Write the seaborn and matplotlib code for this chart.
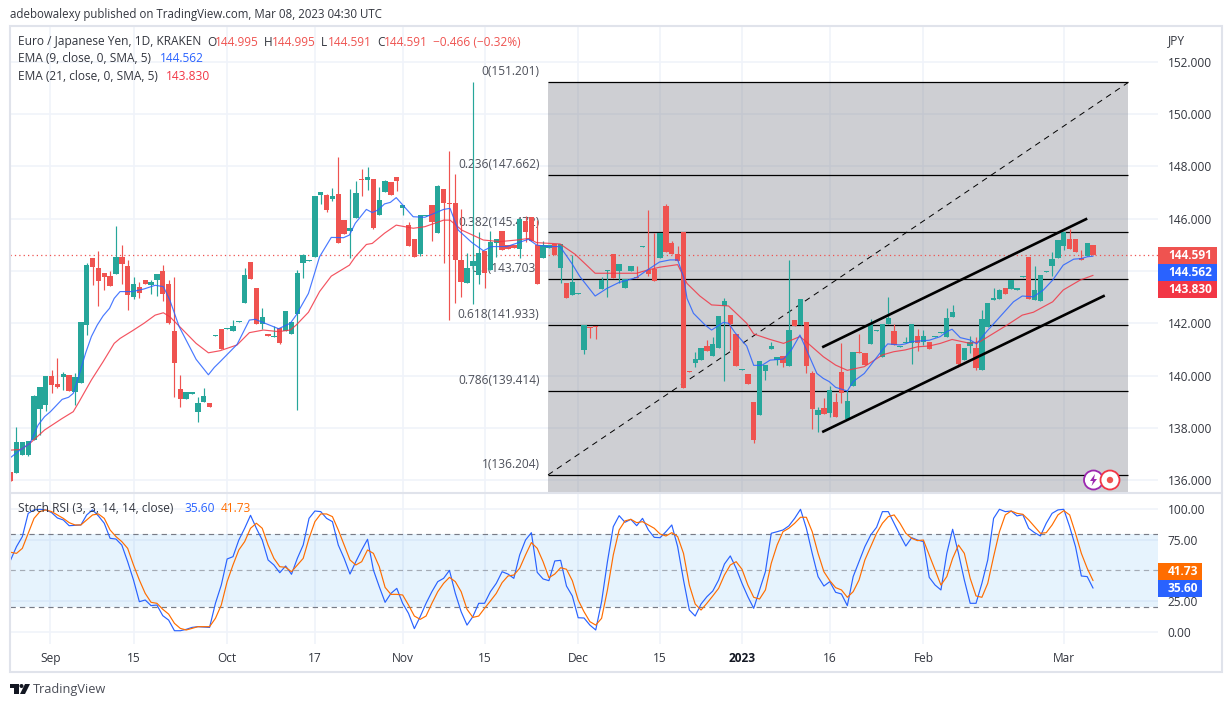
import matplotlib
matplotlib.use('Agg')
import matplotlib.pyplot as plt
from matplotlib.patches import Rectangle, Circle, Polygon
import pandas as pd
import seaborn as sns

opens = [136.30,136.29,136.97,136.96,137.54,138.73,138.89,139.98,139.68,139.96,
140.02,139.37,139.73,141.93,144.49,144.11,143.92,143.80,143.88,144.53,
144.19,143.00,143.38,143.65,143.46,143.65,143.99,143.50,141.70,139.49,
139.10,139.31,138.61,138.99,138.95,141.51,141.78,141.78,141.70,142.05,
142.77,144.34,143.35,141.97,141.59,141.47,141.82,141.70,141.59,142.35,
144.30,144.38,144.54,146.90,146.90,146.75,146.94,145.94,145.52,146.02,
147.52,147.47,147.51,146.14,147.01,147.40,147.59,146.40,145.75,145.22,
144.65,146.10,146.52,145.45,147.13,146.58,146.59,144.42,143.54,144.19,
143.84,144.76,144.03,145.07,145.52,144.99,144.99,144.84,145.91,146.06,
144.99,144.49,144.89,145.03,144.11,143.54,143.08,143.12,140.98,141.87,
141.89,143.31,143.99,144.65,143.99,143.35,143.99,143.78,144.91,144.03,
144.07,144.49,146.48,145.07,144.65,145.49,140.19,140.48,140.59,141.13,
140.75,141.05,142.66,142.31,141.59,140.21,140.06,138.99,138.49,140.17,
141.01,140.59,140.75,140.37,142.12,141.93,142.05,140.10,138.49,138.76,
138.57,138.99,140.14,138.33,139.60,140.90,140.86,141.21,141.70,140.71,
141.97,141.70,141.09,141.24,141.24,141.51,141.28,141.28,141.48,141.63,
141.47,142.24,141.21,140.59,141.13,141.05,140.21,141.86,142.90,142.93,
143.35,143.31,143.28,143.77,144.53,142.89,142.85,143.96,144.19,144.49,
144.95,145.22,145.22,144.49,144.57,144.995]
closes = [135.98,137.46,137.46,137.50,139.22,139.56,139.98,139.64,139.56,140.06,
139.41,139.94,142.05,144.23,144.15,143.61,143.77,143.42,144.53,144.26,
143.08,143.50,143.15,143.50,143.57,143.88,143.12,142.00,140.48,139.10,
139.37,139.37,138.95,139.22,138.80,141.55,141.01,141.82,141.89,142.08,
143.84,143.69,141.97,142.24,141.51,141.51,141.24,142.47,142.05,143.92,
144.61,144.42,146.86,147.01,146.33,146.86,145.07,145.41,145.64,146.98,
147.49,147.59,145.64,146.71,147.44,146.90,147.44,146.52,144.95,144.53,
146.14,146.14,145.87,147.24,146.59,146.54,144.42,143.57,144.11,144.38,
144.68,143.92,145.10,145.22,144.80,144.84,144.87,145.98,145.49,145.14,
143.50,144.99,144.99,144.59,145.03,142.96,143.57,143.15,141.93,141.83,
141.86,143.65,144.03,143.73,144.26,143.69,144.19,143.74,144.95,143.88,
143.61,145.45,144.72,144.65,144.38,139.52,140.15,140.63,141.05,140.94,
141.21,142.28,142.85,141.97,140.37,140.25,139.68,137.54,140.56,140.40,
141.13,140.71,140.48,141.74,141.89,142.93,140.37,138.73,138.68,138.53,
139.45,138.42,139.33,139.03,140.90,140.86,140.40,141.97,141.74,141.97,
142.20,141.17,141.13,141.28,141.97,141.24,141.51,141.01,141.52,141.66,
142.20,142.43,140.44,141.05,141.28,140.29,142.16,142.77,142.96,143.27,
143.12,143.65,143.33,143.80,142.93,143.27,143.84,143.99,144.45,145.18,
145.49,144.84,144.72,144.43,145.07,144.591]
highs = [136.30,138.04,137.46,137.50,139.26,139.56,139.98,140.21,140.67,140.15,
140.02,140.11,142.05,144.30,144.49,144.76,143.92,143.99,145.72,144.99,
144.42,143.77,143.57,143.65,143.65,143.88,144.23,143.65,143.77,140.02,
139.37,139.37,139.18,139.52,138.95,141.55,141.78,141.82,142.12,142.08,
144.11,144.34,143.35,142.58,141.59,141.89,141.82,142.47,142.05,144.03,
144.65,144.42,146.86,147.01,146.94,147.17,148.35,145.94,147.13,147.44,
147.89,147.97,147.51,147.21,147.47,147.40,147.59,146.52,145.87,145.22,
146.14,146.14,146.52,147.28,147.13,148.58,147.70,146.37,144.68,151.22,
145.49,144.76,145.52,145.22,145.52,144.99,144.99,145.98,146.10,146.06,
145.94,145.14,144.99,145.03,145.03,143.54,144.61,143.15,141.93,141.87,
141.89,143.77,144.03,144.65,144.26,143.69,144.19,144.19,144.95,146.33,
145.45,145.45,146.56,145.14,144.95,145.49,140.19,140.90,141.05,141.36,
141.47,142.28,142.96,142.31,141.59,140.25,140.06,138.99,140.56,140.40,
141.28,140.71,140.75,144.42,142.12,142.93,142.05,140.17,138.80,139.14,
139.60,139.33,141.24,139.45,140.90,141.59,140.86,142.16,141.74,141.97,
143.00,141.97,141.13,141.47,141.97,141.78,141.74,141.28,141.52,141.66,
142.58,142.70,141.21,141.05,141.51,141.47,142.51,142.77,143.35,143.31,
143.35,143.65,143.33,143.80,144.53,144.19,143.84,143.99,144.72,145.18,
145.49,145.60,145.22,144.80,145.07,144.995]
lows = [135.98,136.29,136.97,136.93,137.54,137.73,138.66,139.35,139.52,139.45,
139.41,138.87,139.73,141.55,143.46,142.66,143.27,143.42,143.88,143.50,
142.51,142.93,142.96,143.50,143.12,143.04,142.85,141.97,139.18,138.80,
139.10,139.31,138.22,138.99,138.80,141.51,141.01,141.78,141.70,142.05,
142.77,143.69,141.97,141.78,141.51,141.47,141.20,141.70,141.59,138.68,
143.73,144.38,144.54,146.56,146.25,146.67,145.07,145.41,144.49,146.02,
146.86,147.09,145.60,146.14,147.01,146.90,147.05,146.14,144.95,144.53,
144.57,146.10,145.14,145.45,144.31,142.12,142.77,143.00,143.54,142.73,
143.50,143.35,144.03,144.53,144.80,144.84,144.87,144.49,145.10,145.14,
143.50,144.49,144.89,144.59,143.54,142.96,143.08,143.12,140.82,141.43,
141.40,143.31,143.00,143.73,143.54,143.35,143.99,143.74,144.91,143.80,
143.61,144.49,144.72,144.65,144.38,139.52,140.15,140.33,140.59,140.94,
140.75,141.05,139.79,140.97,140.37,140.21,139.68,137.42,138.49,139.83,
141.01,140.40,140.33,140.37,141.89,141.93,140.10,137.96,137.84,138.53,
138.42,138.42,138.95,138.30,139.60,140.86,140.40,141.21,141.70,140.71,
141.97,141.17,141.09,141.24,140.44,140.94,141.17,141.01,141.48,141.63,
141.47,142.24,140.33,140.59,140.86,140.21,140.21,141.86,142.90,142.93,
143.12,143.31,143.28,143.77,142.93,142.89,142.85,143.96,143.80,144.49,
144.80,144.84,144.72,144.43,144.57,144.591]

ema9_x = [0,1.6,3.3,4.7,5.8,6.8,8.8,9.9,10.7,11.7,12.8,13.8,14.8,15.8,16.9,17.7,18.7,20.8,22.8,24.7,
26.1,27.2,28.8,31.7,33.8,34.8,35.8,38.7,40.8,41.8,43.9,45.8,47.8,48.8,50.9,52.8,54.8,56.9,57.9,58.9,
60.8,61.8,62.8,63.9,64.9,65.9,68.8,70.8,74.0,75.1,76.5,78.8,80.8,82.2,84.8,86.8,88.5,89.9,91.9,93.9,
95.9,97.3,99.9,101.9,103.9,107.0,108.8,110.9,112.7,114.0,115.0,115.6,116.7,118.7,119.8,121.8,122.7,123.8,125.8,127.0,
128.4,129.8,132.1,133.5,134.9,136.4,137.8,138.9,139.9,141.0,143.0,144.0,145.9,147.0,149.0,149.9,151.9,152.9,154.0,157.0,
158.9,160.0,160.9,162.3,164.0,165.1,166.8,169.1,171.4,172.9,174.8,176.5,178.1,179.9,181.7,183.0,184.0,185.0]
ema9 = [136.87,137.15,137.41,138.11,138.43,138.62,139.09,139.17,139.32,140.02,140.85,141.49,141.93,142.28,142.57,142.95,143.21,143.21,143.31,143.45,
143.40,142.89,141.87,140.62,140.03,140.31,140.53,141.19,142.12,142.15,141.96,141.79,142.00,142.31,143.14,144.54,145.28,145.27,145.37,145.82,
146.35,146.23,146.33,146.56,146.62,146.80,146.07,146.05,146.35,146.39,145.56,145.09,144.77,144.93,144.93,145.08,145.21,144.99,144.93,144.93,
144.29,143.78,143.04,143.33,143.55,143.75,144.03,144.34,144.42,144.42,143.78,142.95,142.38,141.93,141.74,142.03,142.00,141.64,141.13,140.39,
140.39,140.59,140.63,141.00,141.55,140.79,140.08,139.89,139.77,139.55,139.41,139.77,140.08,140.40,140.98,141.21,141.17,141.21,141.30,141.35,
141.49,141.68,141.77,141.45,141.36,141.21,141.68,142.25,142.82,143.04,143.01,143.27,143.65,144.22,144.45,144.47,144.54,144.562]
ema21_x = [0,1.8,3.3,5.8,8.8,10.7,11.7,13.8,15.8,17.7,18.7,20.8,22.8,24.7,26.1,27.2,29.2,31.7,33.8,35.8,
38.7,40.8,43.2,45.8,47.8,48.8,50.9,52.8,54.8,57.9,58.9,60.8,61.8,63.9,65.9,68.8,70.8,74.0,75.1,77.1,
80.8,83.6,86.5,88.5,89.9,93.9,96.5,99.9,103.0,107.0,108.8,110.9,114.0,115.6,117.8,119.8,122.7,125.8,127.0,129.8,
132.1,134.9,136.6,138.9,141.0,143.0,145.9,149.0,150.9,152.9,155.0,157.0,158.9,160.9,164.0,165.7,170.3,172.9,174.8,178.1,
179.9,182.8,185.0]
ema21 = [137.15,137.18,137.41,137.92,138.36,138.62,139.00,139.83,140.53,141.23,141.42,141.71,142.00,142.31,142.40,142.25,141.80,141.23,140.87,140.95,
141.17,141.64,141.74,141.68,141.74,141.93,142.42,143.21,143.80,144.22,144.54,145.01,145.05,145.44,145.75,145.63,145.69,145.94,145.94,145.56,
145.18,145.12,145.18,145.24,145.08,145.03,144.63,143.91,143.91,143.91,144.03,144.14,144.24,143.52,143.04,142.70,142.66,142.00,141.59,141.38,
141.23,141.49,141.17,140.72,140.40,140.20,140.34,140.79,140.91,140.98,141.10,141.13,141.23,141.38,141.23,141.30,141.93,142.31,142.42,142.82,
143.27,143.65,143.83]

stoch_k = [58.6,69.5,77.7,96.7,99.5,100,99.5,97.3,92.9,91.3,86.6,86.9,87.2,95.4,99.5,94.6,88.6,76.3,75.7,70.8,
57.2,42.2,24.5,25.9,21.3,21.8,13.1,9.5,0.8,0.8,1.9,3.5,4.1,3.8,3.5,23.2,38.1,59.4,61.3,74.9,
84.5,95.1,84.5,74.9,58.6,54.5,48.2,53.7,46.9,59.9,70.8,92.6,98.6,98.1,92.6,89.9,70.8,59.9,47.1,57.2,
66.8,75.5,50.4,36.8,24.0,31.3,35.4,23.2,15.0,2.5,12.3,23.2,32.7,40.9,43.6,50.1,31.3,16.3,5.4,12.3,
23.2,23.2,32.7,39.5,49.0,47.1,43.6,62.7,74.9,80.9,48.5,43.1,41.7,57.8,58.3,37.3,29.2,11.4,11.2,5.4,
1.4,24.5,57.2,85.8,94.8,
89.4,91.8,86.6,92.6,83.1,77.1,76.8,81.7,87.2,69.5,42.2,17.7,12.8,22.6,28.6,33.2,42.2,55.3,61.9,51.8,
39.5,28.6,19.1,34.1,49.0,80.4,81.7,83.1,86.4,92.6,100,84.5,64.0,45.0,37.3,40.9,32.2,30.8,21.3,45.0,
57.2,69.5,79.0,85.3,98.1,98.1,88.6,79.0,70.0,76.8,74.9,73.6,44.4,38.1,34.1,64.0,83.7,64.0,42.2,23.2,
23.2,39.5,58.6,92.6,100,98.1,98.6,94.6,95.6,84.5,80.9,78.2,88.6,96.7,99.5,100,85.8,69.5,45.5,45.0,35.6]
stoch_d = [64.9,64.0,68.1,80.4,92.6,98.1,99.5,98.1,95.4,92.6,89.1,87.2,87.2,91.3,95.4,96.2,92.6,83.1,77.7,73.6,
68.1,54.5,42.2,31.3,24.0,23.2,18.3,14.4,6.8,2.7,1.4,2.7,4.1,4.1,4.1,10.9,21.8,40.9,54.5,66.8,
73.6,84.5,88.6,84.5,70.8,59.9,53.1,52.6,49.0,54.5,59.9,76.3,89.9,96.2,96.2,94.0,83.1,70.8,58.6,54.5,
57.2,66.8,64.0,53.1,36.2,30.5,30.5,30.0,21.8,12.8,10.1,12.8,23.2,32.7,39.5,44.4,40.9,32.7,18.3,11.7,
12.8,19.1,25.1,31.3,40.1,45.5,46.3,51.8,62.7,72.8,68.1,57.2,44.1,47.1,52.3,51.0,41.7,25.9,16.3,8.2,
5.4,10.9,34.1,62.7,83.1,
90.5,91.8,89.1,89.9,87.2,84.5,79.8,78.2,80.9,77.7,64.0,38.1,22.6,17.7,23.2,29.2,35.4,46.3,54.5,57.2,
51.0,38.1,28.1,26.7,34.1,55.9,70.8,81.7,84.5,88.6,93.5,93.5,81.7,64.0,49.0,41.7,36.0,34.1,28.1,32.7,
42.2,58.6,69.5,80.4,88.6,94.0,95.4,88.6,80.4,76.3,74.4,74.9,62.7,50.4,38.1,45.0,59.9,70.8,64.0,43.6,
29.2,28.1,39.5,61.3,81.7,95.4,98.6,96.7,95.9,91.3,85.8,80.4,80.9,87.2,95.4,98.9,95.4,80.4,64.0,51.8,41.73]

fib_levels = [151.201,147.662,145.472,143.703,141.933,139.414,136.204]
fib_labels = ['0(151.201)','0.236(147.662)','0.382(145.472)','0.5(143.703)','0.618(141.933)','0.786(139.414)','1(136.204)']
fib_label_y = [71.7,165,222,268,315,380.7,465]
fib_start = 91.85
fib_end = 191.0
upper_channel_x = [138.7,184.0]
upper_channel_y = [141.08,146.0]
lower_channel_x = [138.7,187.0]
lower_channel_y = [137.84,143.06]

price_ticks = [136,138,140,142,146,148,150,152]
price_grid = [136,138,140,142,144,146,148,150,152]
stoch_ticks = [0,25,75,100]
date_pos = [6.8,21,37,52,67,81,97,111,125,140,156,180]
date_labels = ['Sep','15','Oct','17','Nov','15','Dec','15','2023','16','Feb','Mar']

GREEN = '#26A69A'
RED = '#EF5350'
BLUE = '#2962FF'
EMA_RED = '#F23645'
ORANGE = '#FF6D00'
TXT = '#33363f'
GRID = '#F0F3FA'
FRAME = '#E0E3EB'
W, H = 1232, 707

sns.set_theme(style='white')
plt.rcParams['font.family'] = ['Open Sans', 'DejaVu Sans']
FS = 8.6

fig = plt.figure(figsize=(W / 100, H / 100), dpi=100, facecolor='white')
ax = fig.add_axes([10 / W, 1 - 492 / H, 1148 / W, 466 / H])
ax2 = fig.add_axes([10 / W, 1 - 644 / H, 1148 / W, 150 / H])
over = fig.add_axes([0, 0, 1, 1], zorder=10)
over.set_xlim(0, W)
over.set_ylim(H, 0)
over.axis('off')

x_left, x_right = -0.11, 196.1
bars = pd.DataFrame({'x': range(len(opens)), 'o': opens, 'h': highs, 'l': lows, 'c': closes})
bars['color'] = [GREEN if c >= o else RED for o, c in zip(opens, closes)]

# main panel
ax.set_xlim(x_left, x_right)
ax.set_ylim(135.55, 153.36)
for p in price_grid:
    ax.axhline(p, color=GRID, lw=1.2, zorder=0)
for d in date_pos:
    ax.axvline(d, color=GRID, lw=1.2, zorder=0)

ax.add_patch(Rectangle((fib_start, 135.55), fib_end - fib_start, fib_levels[0] - 135.55,
                       facecolor='#787B86', alpha=0.36, edgecolor='none', zorder=1))
ax.hlines(fib_levels, fib_start, fib_end, color='black', lw=0.9, zorder=2)
ax.plot([fib_start, fib_end], [fib_levels[-1], fib_levels[0]], color='black', lw=0.7, dashes=(6, 5), zorder=2)
# labels sit under the candles
for lab, ypx in zip(fib_labels, fib_label_y):
    ax.text(539.5, ypx, lab, ha='right', va='center', fontsize=FS, color='#4d505a', zorder=1,
            transform=over.transData, clip_on=False)

ax.axhline(closes[-1], color=RED, lw=0.9, dashes=(1, 2.5), zorder=2)
ax.vlines(bars['x'], bars['l'], bars['h'], color=bars['color'], lw=0.85, zorder=3)
ax.bar(bars['x'], (bars['c'] - bars['o']).abs(), bottom=bars[['o', 'c']].min(axis=1),
       width=0.92, color=bars['color'], linewidth=0, zorder=3)

sns.lineplot(x=ema21_x, y=ema21, ax=ax, color=EMA_RED, lw=0.85, alpha=0.85, estimator=None, sort=False, zorder=4)
sns.lineplot(x=ema9_x, y=ema9, ax=ax, color=BLUE, lw=0.85, alpha=0.85, estimator=None, sort=False, zorder=4)
ax.plot(upper_channel_x, upper_channel_y, color='black', lw=1.9, solid_capstyle='butt', zorder=5)
ax.plot(lower_channel_x, lower_channel_y, color='black', lw=1.9, solid_capstyle='butt', zorder=5)

ax.yaxis.tick_right()
ax.set_yticks(price_ticks)
ax.set_yticklabels([f'{p:.3f}' for p in price_ticks], fontsize=FS, color=TXT)
ax.set_xticks([])
ax.tick_params(axis='y', length=0, pad=7)
ax.set_xlabel('')
ax.set_ylabel('')
sns.despine(ax=ax, left=True, bottom=True, right=True, top=True)
ax.patch.set_alpha(0)

# stoch rsi panel
ax2.set_xlim(x_left, x_right)
ax2.set_ylim(-10.05, 112.5)
for p in stoch_ticks:
    ax2.axhline(p, color=GRID, lw=1.2, zorder=0)
for d in date_pos:
    ax2.axvline(d, color=GRID, lw=1.2, zorder=0)
ax2.axhspan(20, 80, color='#2196F3', alpha=0.11, lw=0, zorder=1)
ax2.axhline(80, color='#787B86', lw=0.85, dashes=(4.5, 3.5), zorder=2)
ax2.axhline(50, color='#787B86', lw=0.85, alpha=0.6, dashes=(4.5, 3.5), zorder=2)
ax2.axhline(20, color='#787B86', lw=0.85, dashes=(4.5, 3.5), zorder=2)
sns.lineplot(x=bars['x'], y=stoch_k, ax=ax2, color=BLUE, lw=0.85, estimator=None, sort=False, zorder=3)
sns.lineplot(x=bars['x'], y=stoch_d, ax=ax2, color=ORANGE, lw=0.85, estimator=None, sort=False, zorder=4)
ax2.yaxis.tick_right()
ax2.set_yticks(stoch_ticks)
ax2.set_yticklabels([f'{p:.2f}' for p in stoch_ticks], fontsize=FS, color=TXT)
ax2.set_xticks(date_pos)
ax2.set_xticklabels(date_labels, fontsize=FS, color=TXT)
ax2.get_xticklabels()[8].set_fontweight('bold')
ax2.get_xticklabels()[8].set_color('#131722')
ax2.tick_params(axis='y', length=0, pad=7)
ax2.tick_params(axis='x', length=0, pad=6)
ax2.set_xlabel('')
ax2.set_ylabel('')
sns.despine(ax=ax2, left=True, bottom=True, right=True, top=True)
ax2.patch.set_alpha(0)

# frame
over.add_patch(Rectangle((9.5, 25.5), 1212, 646, fill=False, edgecolor=FRAME, lw=1.5))
over.plot([10, 1222], [492.5, 492.5], color=FRAME, lw=1.5)

# header text
def txt(x, y, s, color=TXT, **kw):
    over.text(x, y, s, ha=kw.pop('ha', 'left'), va='center', fontsize=kw.pop('fontsize', FS), color=color, **kw)

txt(10, 14.5, 'adebowalexy published on TradingView.com, Mar 08, 2023 04:30 UTC', fontsize=8.3)
txt(18, 42, 'Euro / Japanese Yen, 1D, KRAKEN')
for x, s in [(207, 'O'), (264, 'H'), (321, 'L'), (377, 'C')]:
    txt(x, 42, s)
for x, s in [(215, '144.995'), (272, '144.995'), (327.5, '144.591'), (384, '144.591'), (433, '\u22120.466 (\u22120.32%)')]:
    txt(x, 42, s, color=RED)
txt(18, 59, 'EMA (9, close, 0, SMA, 5)')
txt(160, 59, '144.562', color=BLUE)
txt(18, 76, 'EMA (21, close, 0, SMA, 5)')
txt(166, 76, '143.830', color=EMA_RED)
txt(18, 509, 'Stoch RSI (3, 3, 14, 14, close)')
txt(184, 509, '35.60', color=BLUE)
txt(220.5, 509, '41.73', color=ORANGE)
txt(1168, 41, 'JPY')

# last value boxes on the scales
for y0, y1, c, s in [(247.3, 263.7, RED, '144.591'), (263.7, 281, BLUE, '144.562'), (281, 297.7, EMA_RED, '143.830')]:
    over.add_patch(Rectangle((1158, y0), 59, y1 - y0, facecolor=c, edgecolor='none'))
    txt(1168, (y0 + y1) / 2, s, color='white', fontweight='bold')
for y0, y1, c, s in [(563, 580, ORANGE, '41.73'), (580, 597, BLUE, '35.60')]:
    over.add_patch(Rectangle((1158, y0), 44, y1 - y0, facecolor=c, edgecolor='none'))
    txt(1168, (y0 + y1) / 2, s, color='white', fontweight='bold')

# small status icons
over.add_patch(Circle((1093.5, 480), 9.5, facecolor='white', edgecolor='#9C27B0', lw=1.3))
over.add_patch(Polygon([(1095, 474), (1090, 481), (1093, 481), (1091.5, 486), (1097, 479), (1094, 479)],
                       facecolor='#9C27B0', edgecolor='none'))
over.add_patch(Circle((1110, 480), 9.5, facecolor='white', edgecolor=EMA_RED, lw=1.3))
over.add_patch(Circle((1110, 480), 3.2, facecolor=RED, edgecolor='none'))

# footer logo
over.add_patch(Polygon([(10, 684), (19, 684), (19, 694), (14, 694), (14, 688), (10, 688)], facecolor='#131722', edgecolor='none'))
over.add_patch(Circle((21.5, 686), 2, facecolor='#131722', edgecolor='none'))
over.add_patch(Polygon([(25, 684), (30, 684), (25, 694), (20, 694)], facecolor='#131722', edgecolor='none'))
txt(33, 689.5, 'TradingView', color='#4a4d57', fontsize=9.2)

fig.savefig('out.png', dpi=100, facecolor='white')
